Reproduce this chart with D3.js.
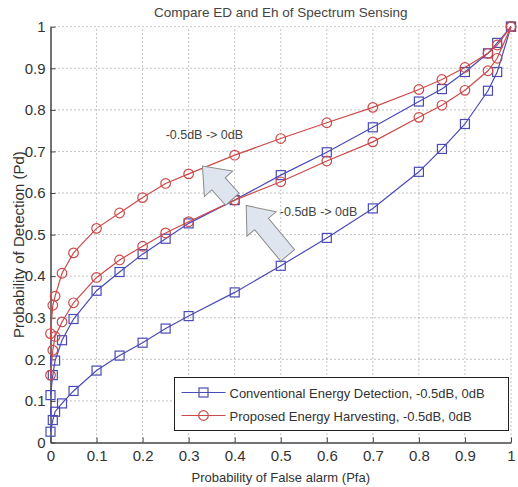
<!DOCTYPE html>
<html lang="en">
<head>
<meta charset="UTF-8">
<title>Compare ED and Eh of Spectrum Sensing</title>
<script src="https://d3js.org/d3.v7.min.js"></script>
<style>
  body { margin: 0; background: #fff; font-family: "Liberation Sans", Arial, sans-serif; }
  svg { display: block; }
  .tick text { fill: #333; font-size: 15px; }
  .grid line { stroke: #888; stroke-dasharray: 1 3; stroke-width: 1; }
</style>
</head>
<body>
<svg width="518" height="487"></svg>
<script>
// Pfa sample points (shared by all four curves)
const pfa = [0, 0.005, 0.01, 0.025, 0.05, 0.1, 0.15, 0.2, 0.25, 0.3, 0.4, 0.5, 0.6, 0.7, 0.8, 0.85, 0.9, 0.95, 0.97, 1];

// Conventional energy detection
const edLow  = [0.026, 0.054, 0.074, 0.094, 0.124, 0.173, 0.209, 0.24, 0.274, 0.304, 0.361, 0.425, 0.492, 0.563, 0.651, 0.706, 0.766, 0.846, 0.891, 1.0];
const edHigh = [0.114, 0.162, 0.197, 0.246, 0.297, 0.365, 0.41, 0.453, 0.49, 0.527, 0.583, 0.643, 0.698, 0.758, 0.82, 0.85, 0.891, 0.936, 0.961, 1.0];

// Proposed energy harvesting
const ehLow  = [0.162, 0.222, 0.255, 0.29, 0.336, 0.397, 0.439, 0.472, 0.504, 0.531, 0.583, 0.627, 0.677, 0.723, 0.782, 0.811, 0.847, 0.894, 0.924, 1.0];
const ehHigh = [0.262, 0.33, 0.352, 0.407, 0.456, 0.515, 0.552, 0.589, 0.623, 0.646, 0.691, 0.731, 0.769, 0.806, 0.849, 0.873, 0.902, 0.936, 0.956, 1.0];

const ticks = d3.range(0, 11).map(i => i / 10);
const tickLabels = ["0", "0.1", "0.2", "0.3", "0.4", "0.5", "0.6", "0.7", "0.8", "0.9", "1"];

const legendLabels = ["Conventional Energy Detection, -0.5dB, 0dB", "Proposed Energy Harvesting, -0.5dB, 0dB"];

// annotation arrows: [tail, tip] in data units
const arrows = [
  { tail: [0.395, 0.585], tip: [0.33, 0.665], label: "-0.5dB -> 0dB", at: [0.25, 0.73] },
  { tail: [0.515, 0.45], tip: [0.425, 0.57], label: "-0.5dB -> 0dB", at: [0.498, 0.545] }
];

const svg = d3.select("svg");
const x = d3.scaleLinear().domain([0, 1]).range([50.5, 511]);
const y = d3.scaleLinear().domain([0, 1]).range([442.5, 26.7]);

// title
svg.append("text")
  .attr("x", (x(0) + x(1)) / 2).attr("y", 17)
  .attr("text-anchor", "middle")
  .attr("fill", "#444").style("font-size", "13.5px")
  .text("Compare ED and Eh of Spectrum Sensing");

// grid
svg.append("g").attr("class", "grid")
  .selectAll("line.v").data(ticks.slice(1)).enter().append("line")
  .attr("x1", d => x(d)).attr("x2", d => x(d))
  .attr("y1", y(0)).attr("y2", y(1));
svg.select(".grid")
  .selectAll("line.h").data(ticks.slice(1)).enter().append("line")
  .attr("x1", x(0)).attr("x2", x(1))
  .attr("y1", d => y(d)).attr("y2", d => y(d));

// axes, ticks pointing inward
svg.append("g")
  .attr("transform", `translate(0,${y(0)})`)
  .call(d3.axisBottom(x).tickValues(ticks).tickFormat((d, i) => tickLabels[i]).tickSizeInner(-5).tickSizeOuter(0).tickPadding(8));
svg.append("g")
  .attr("transform", `translate(${x(0)},0)`)
  .call(d3.axisLeft(y).tickValues(ticks).tickFormat((d, i) => tickLabels[i]).tickSizeInner(-5).tickSizeOuter(0).tickPadding(5));
svg.selectAll(".domain").attr("stroke", "#444").attr("stroke-width", 1.5);
svg.selectAll(".tick line").attr("stroke", "#444");

// axis labels
svg.append("text")
  .attr("x", (x(0) + x(1)) / 2).attr("y", 482)
  .attr("text-anchor", "middle").attr("fill", "#333").style("font-size", "13px")
  .text("Probability of False alarm (Pfa)");
svg.append("text")
  .attr("transform", `translate(24,${(y(0) + y(1)) / 2 + 10}) rotate(-90)`)
  .attr("text-anchor", "middle").attr("fill", "#333").style("font-size", "15px")
  .text("Probability of Detection (Pd)");

// curves
const blue = "#4a4ab8", red = "#cc4a4a";
const series = [
  { vals: edLow, color: blue, marker: "square" },
  { vals: edHigh, color: blue, marker: "square" },
  { vals: ehLow, color: red, marker: "circle" },
  { vals: ehHigh, color: red, marker: "circle" }
];
const line = d3.line().x(d => x(d[0])).y(d => y(d[1]));

function drawMarker(g, type, color) {
  if (type === "square") {
    g.append("rect").attr("x", -4.5).attr("y", -4.5).attr("width", 9).attr("height", 9)
      .attr("fill", "none").attr("stroke", color).attr("stroke-width", 1.2);
  } else {
    g.append("circle").attr("r", 4.8)
      .attr("fill", "none").attr("stroke", color).attr("stroke-width", 1.2);
  }
}

series.forEach(s => {
  const pts = pfa.map((p, i) => [p, s.vals[i]]);
  svg.append("path").datum(pts).attr("d", line)
    .attr("fill", "none").attr("stroke", s.color).attr("stroke-width", 1.2);
  svg.append("g").selectAll("g").data(pts).enter().append("g")
    .attr("transform", d => `translate(${x(d[0])},${y(d[1])})`)
    .each(function () { drawMarker(d3.select(this), s.marker, s.color); });
});

// block arrows
arrows.forEach(a => {
  const x0 = x(a.tail[0]), y0 = y(a.tail[1]), x1 = x(a.tip[0]), y1 = y(a.tip[1]);
  const len = Math.hypot(x1 - x0, y1 - y0);
  const ang = Math.atan2(y1 - y0, x1 - x0) * 180 / Math.PI;
  const sw = 9, hw = 19, hl = 24;
  const shape = [[0, -sw], [len - hl, -sw], [len - hl, -hw], [len, 0], [len - hl, hw], [len - hl, sw], [0, sw]];
  svg.append("polygon")
    .attr("points", shape.map(p => p.join(",")).join(" "))
    .attr("transform", `translate(${x0},${y0}) rotate(${ang})`)
    .attr("fill", "#dfe5ef").attr("stroke", "#8a8a8a").attr("stroke-width", 1);
  svg.append("text")
    .attr("x", x(a.at[0])).attr("y", y(a.at[1]))
    .attr("fill", "#444").style("font-size", "12.5px")
    .text(a.label);
});

// legend
const lg = svg.append("g").attr("transform", "translate(174.5,377.5)");
lg.append("rect").attr("width", 334).attr("height", 53)
  .attr("fill", "#fff").attr("stroke", "#222").attr("stroke-width", 1);
legendLabels.forEach((t, i) => {
  const s = series[i * 2];
  const row = lg.append("g").attr("transform", `translate(0,${15 + i * 23})`);
  row.append("line").attr("x1", 7).attr("x2", 51).attr("stroke", s.color).attr("stroke-width", 1.2);
  drawMarker(row.append("g").attr("transform", "translate(29,0)"), s.marker, s.color);
  row.append("text").attr("x", 55).attr("y", 5)
    .attr("fill", "#333").style("font-size", "13px").text(t);
});
</script>
</body>
</html>
